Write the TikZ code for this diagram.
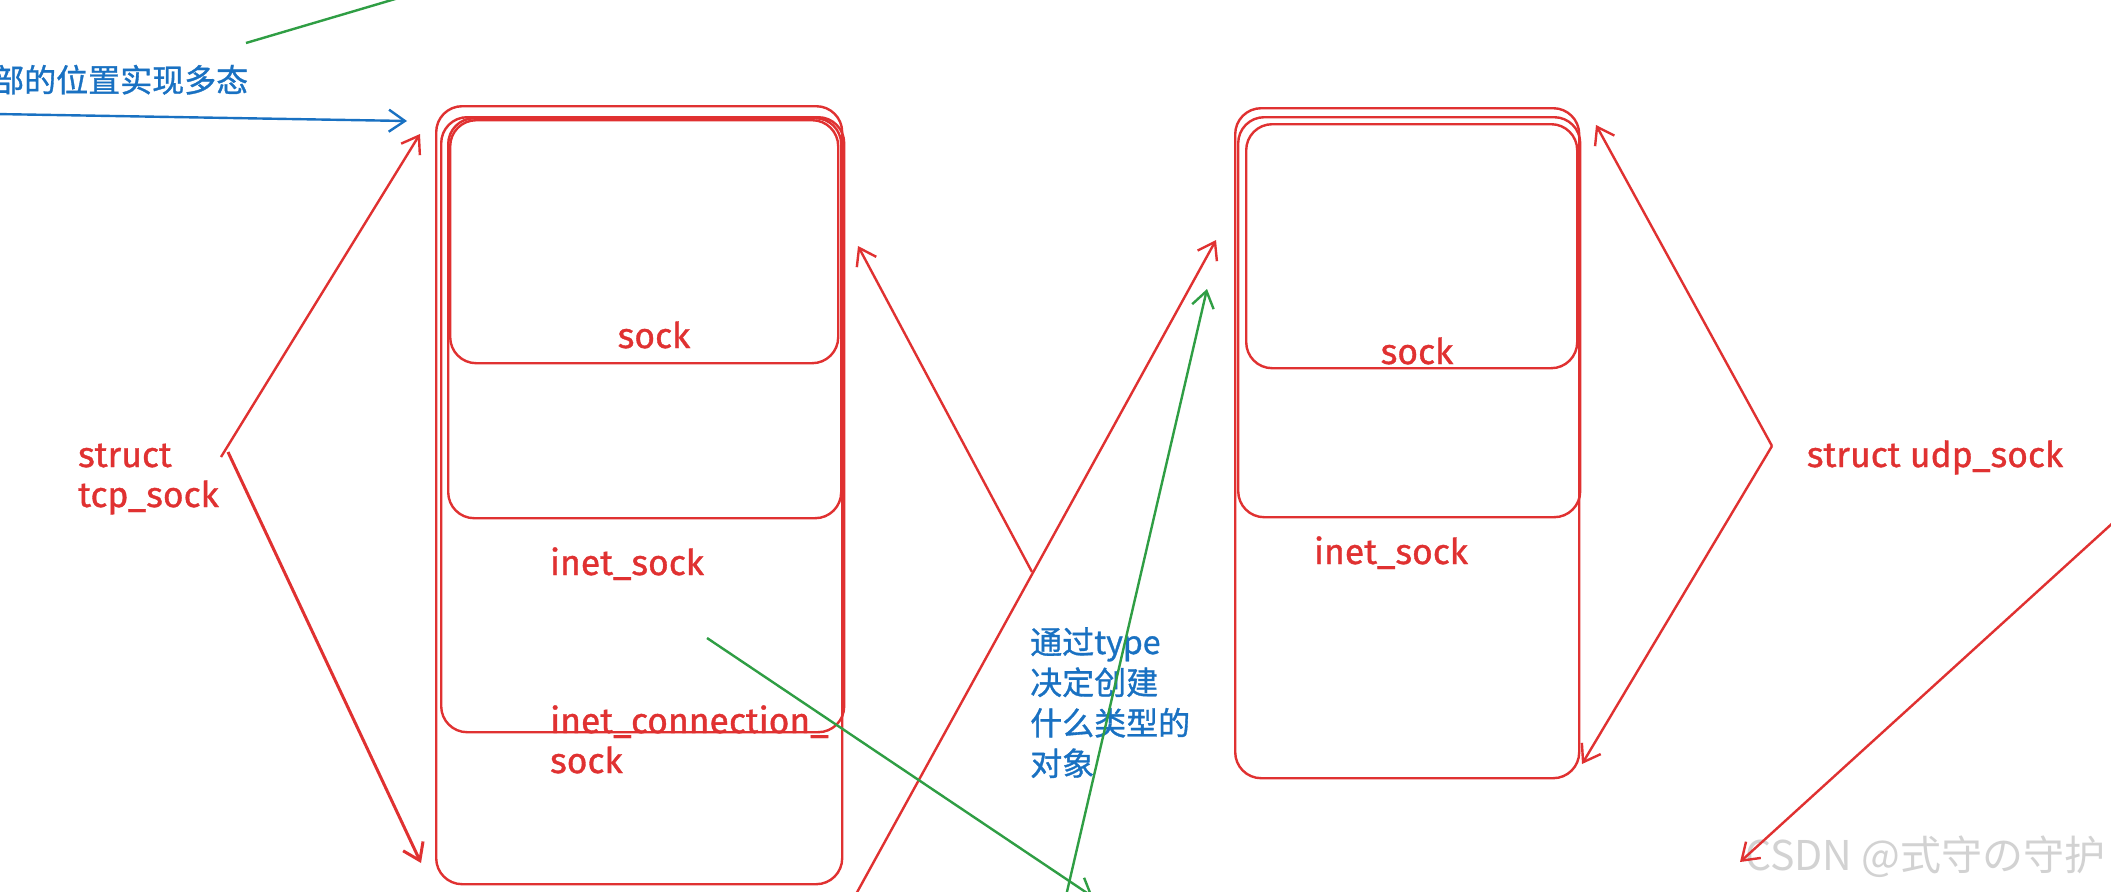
\documentclass[tikz,border=0pt]{standalone}
\usepackage{fontspec}
\setmainfont{Fira Sans}
\newfontfamily\handfont[FakeBold=1]{Fira Sans}
\newfontfamily\cjkfont[FakeBold=1]{Noto Sans CJK SC}
\newfontfamily\wmfont{Noto Sans CJK SC}
\usetikzlibrary{arrows.meta}
\definecolor{exred}{HTML}{E03131}
\definecolor{exblue}{HTML}{1971C2}
\definecolor{exgreen}{HTML}{2F9E44}
\definecolor{wmgray}{HTML}{D2D2D2}
\begin{document}
\begin{tikzpicture}[x=1pt,y=-1pt,
  rbox/.style={draw=exred, line width=2.4pt, rounded corners=26pt, inner sep=0pt, anchor=north west},
  redlbl/.style={text=exred, font=\handfont\fontsize{35.5}{40}\selectfont, inner sep=0pt},
  bluelbl/.style={text=exblue, font=\cjkfont\fontsize{32}{40.5}\selectfont, inner sep=0pt},
  conn/.style={line width=2.4pt, -{Straight Barb[length=16pt,width=22pt]}},
]
\useasboundingbox (0,0) rectangle (2111,891);
\fill[white] (0,0) rectangle (2111,891);
\clip (0,0) rectangle (2111,891);

% ---- left structure: tcp_sock ----
\node[rbox, minimum width=406pt, minimum height=778pt] (tA) at (435,105) {};
\node[rbox, minimum width=403pt, minimum height=615pt] (tB) at (440,116) {};
\node[rbox, minimum width=393pt, minimum height=400pt] (tC) at (447,117) {};
\node[rbox, minimum width=388pt, minimum height=243pt] (tD) at (449,119) {};

\node[redlbl, anchor=base] (tsock) at (654,348) {sock};
\node[redlbl, anchor=base] (tinet) at (627,575) {inet\_sock};
\node[redlbl, anchor=base west] (tconn1) at (550,733) {inet\_connection\_};
\node[redlbl, anchor=base west] (tconn2) at (550,773) {sock};
\node[redlbl, anchor=base west] (tcp1) at (78,467) {struct};
\node[redlbl, anchor=base west] (tcp2) at (78,507) {tcp\_sock};

% ---- right structure: udp_sock ----
\node[rbox, minimum width=344pt, minimum height=670pt] (uA) at (1234,107) {};
\node[rbox, minimum width=342pt, minimum height=400pt] (uB) at (1237,116) {};
\node[rbox, minimum width=331pt, minimum height=244pt] (uC) at (1245,123) {};

\node[redlbl, anchor=base] (usock) at (1417,364) {sock};
\node[redlbl, anchor=base] (uinet) at (1391,564) {inet\_sock};
\node[redlbl, anchor=base] (udp) at (1935,467) {struct udp\_sock};

% ---- blue texts ----
\node[bluelbl, anchor=base west] (poly) at (-8,92) {部的位置实现多态};
\node[bluelbl, align=left, anchor=north west] (typetxt) at (1030,627) {通过type\\决定创建\\什么类型的\\对象};

% ---- watermark ----
\node[text=wmgray, font=\wmfont\fontsize{41}{44}\selectfont, anchor=base west, inner sep=0pt] (wm) at (1745,870) {CSDN @式守の守护};

% ---- coordinates for connector ends ----
\coordinate (blueS) at (-5,114);
\coordinate (blueE) at (407,121);
\coordinate (gtopS) at (246,43);
\coordinate (gtopE) at (402,-3);
\coordinate (tcpV1) at (221,457);
\coordinate (tcpV2) at (228,452);
\coordinate (tcpUp) at (420,134);
\coordinate (tcpDn) at (421,863);
\coordinate (xS) at (1032,572);
\coordinate (xE) at (858,246);
\coordinate (yS) at (855,896);
\coordinate (yE) at (1216,240);
\coordinate (g1S) at (1066,896);
\coordinate (g1E) at (1207,289);
\coordinate (g2S) at (707,638);
\coordinate (g2E) at (1093,897);
\coordinate (udpV) at (1772,446);
\coordinate (udpUp) at (1596,125);
\coordinate (udpDn) at (1582,764);
\coordinate (brS) at (2116,520);
\coordinate (brE) at (1740,862);

% ---- connectors ----
\draw[conn, exblue] (blueS) -- (blueE);
\draw[line width=2.4pt, exgreen] (gtopS) -- (gtopE);
\draw[conn, exred] (tcpV1) -- (tcpUp);
\draw[conn, exred, line width=3pt] (tcpV2) -- (tcpDn);
\draw[conn, exred] (xS) -- (xE);
\draw[conn, exred] (yS) -- (yE);
\draw[conn, exgreen] (g1S) -- (g1E);
\draw[conn, exgreen] (g2S) -- (g2E);
\draw[conn, exred] (udpV) -- (udpUp);
\draw[conn, exred] (udpV) -- (udpDn);
\draw[conn, exred] (brS) -- (brE);
\end{tikzpicture}
\end{document}
